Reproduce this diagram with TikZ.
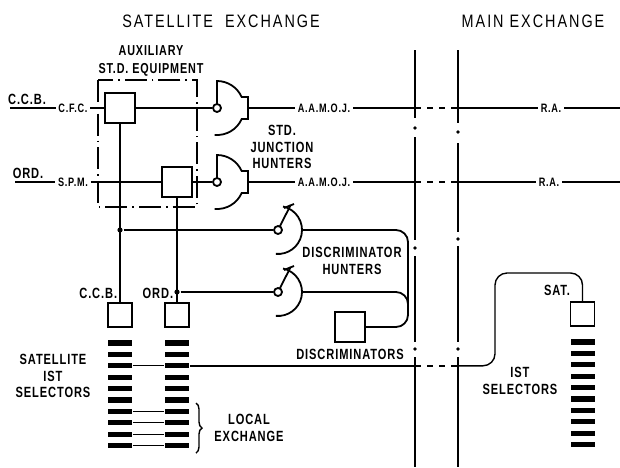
\documentclass[tikz,border=0pt]{standalone}
\usepackage{fontspec}
\setmainfont{Liberation Sans}[FakeStretch=0.75,LetterSpace=6]
\newfontfamily\titlefont{Liberation Sans}[FakeStretch=0.8,LetterSpace=11]
\usetikzlibrary{decorations.pathreplacing}

\begin{document}
\begin{tikzpicture}[x=0.5pt,y=-0.5pt,line width=0.9pt,
  title/.style={font=\titlefont\fontsize{9}{10}\selectfont,inner sep=0pt},
  lbl/.style={font=\bfseries\fontsize{7.4}{8.3}\selectfont,align=center,inner sep=0pt},
  tag/.style={font=\bfseries\fontsize{6.1}{6.5}\selectfont,inner sep=1pt},
  box/.style={draw,minimum size=15pt,inner sep=0pt},
  selbox/.style={draw,minimum size=12pt,inner sep=0pt},
  bar/.style={fill,minimum width=12pt,minimum height=2.6pt,inner sep=0pt},
  contact/.style={draw,circle,minimum size=4pt,inner sep=0pt,fill=white},
  dot/.style={fill,circle,minimum size=2.6pt,inner sep=0pt},
  auxframe/.style={dash pattern=on 11pt off 2.5pt on 0.8pt off 2.5pt}]
\def\yTop{108}
\def\yMid{182}
\def\ySel{365.8}
\useasboundingbox (0,0) rectangle (620,467);

\node[title] (sattitle) at (221,21) {SATELLITE\ \ EXCHANGE};
\node[title] (maintitle) at (533,21) {MAIN EXCHANGE};

% incoming lines
\coordinate (ccbin) at (10,\yTop);
\coordinate (ordin) at (15,\yMid);
\node[lbl,anchor=south] (ccbtxt) at (27,106) {C.C.B.};
\node[lbl,anchor=south] (ordtxt) at (28,180) {ORD.};
\node[tag] (cfc) at (73,\yTop) {C.F.C.};
\node[tag] (spm) at (73,\yMid) {S.P.M.};
\node[box] (aux1) at (120,\yTop) {};
\node[box] (aux2) at (177,\yMid) {};
\draw (ccbin) -- (cfc.west);
\draw (ordin) -- (spm.west);
\draw (cfc.east) -- (aux1.west);
\draw (spm.east) -- (aux2.west);

% auxiliary equipment
\draw[auxframe] (98,80) rectangle (197,207);
\node[lbl,font=\bfseries\fontsize{7.2}{9}\selectfont] (auxtxt) at (151,61) {AUXILIARY\\ST.D. EQUIPMENT};

% junction hunters
\node[contact] (jh1) at (217,\yTop) {};
\node[contact] (jh2) at (217,\yMid) {};
\draw (aux1.east) -- (jh1.west);
\draw (aux2.east) -- (jh2.west);
\foreach \h in {jh1,jh2}
  \draw[shift={(\h)}] (0,-4) -- (0,-27) arc[start angle=90,end angle=24,radius=13.5pt]
    -- (31,-11) -- (31,11) -- (24.7,11) arc[start angle=-24,end angle=-95,radius=13.5pt];
\node[lbl] (jhtxt) at (282,147) {STD.\\JUNCTION\\HUNTERS};
\coordinate (jh1o) at (248,\yTop);
\coordinate (jh2o) at (248,\yMid);
\node[tag] (aamoj1) at (324,\yTop) {A.A.M.O.J.};
\node[tag] (aamoj2) at (324,\yMid) {A.A.M.O.J.};
\draw (jh1o) -- (aamoj1.west);
\draw (jh2o) -- (aamoj2.west);

% junctions to main exchange
\coordinate (ljA) at (415,\yTop);
\coordinate (rjA) at (458,\yTop);
\coordinate (ljB) at (415,\yMid);
\coordinate (rjB) at (458,\yMid);
\draw (aamoj1.east) -- (ljA);
\draw (aamoj2.east) -- (ljB);
\draw[dashed] (ljA) -- (rjA);
\draw[dashed] (ljB) -- (rjB);
\node[tag] (ra1) at (551,\yTop) {R.A.};
\node[tag] (ra2) at (549,\yMid) {R.A.};
\coordinate (raoutA) at (620,\yTop);
\coordinate (raoutB) at (620,\yMid);
\draw (rjA) -- (ra1.west);
\draw (rjB) -- (ra2.west);
\draw (ra1.east) -- (raoutA);
\draw (ra2.east) -- (raoutB);

% discriminator hunters
\node[dot] (dA) at (120,230) {};
\node[dot] (dB) at (177,292) {};
\node[contact] (dh1) at (278,230) {};
\node[contact] (dh2) at (278,292) {};
\draw (dA) -- (dh1.west);
\draw (dB) -- (dh2.west);
\foreach \h in {dh1,dh2}{
  \draw[shift={(\h)}] (5,-23.5) arc[start angle=78,end angle=-95,radius=12pt];
  \draw[shift={(\h)}] (1.8,-3.6) -- (12.7,-25);
  \draw[shift={(\h)}] (6,-22) -- (16,-26);
}
\node[lbl] (dhtxt) at (352,261) {DISCRIMINATOR\\HUNTERS};
\node[box] (disc) at (350,327) {};
\node[lbl] (disctxt) at (350,354) {DISCRIMINATORS};
\coordinate (dh1o) at (302,230);
\coordinate (dh2o) at (302,292);
\coordinate (discbus) at (408,312);
\draw[rounded corners=6pt] (dh1o) -- (408,230) |- (disc.east);
\draw[rounded corners=6pt] (dh2o) -- (408,292) -- (discbus);

% satellite selectors
\node[selbox] (ccbsel) at (120,315) {};
\node[selbox] (ordsel) at (177,315) {};
\draw (aux1.south) -- (ccbsel.north);
\draw (aux2.south) -- (ordsel.north);
\node[lbl,anchor=east] (ccbsub) at (118,293) {C.C.B.};
\node[lbl,anchor=east] (ordsub) at (174,293) {ORD.};
\foreach \i in {1,...,10}{
  \node[bar] (ls-\i) at (120,{331.6+11.4*\i}) {};
  \node[bar] (rs-\i) at (177,{331.6+11.4*\i}) {};
  \node[bar] (ms-\i) at (583,{330.6+11.4*\i}) {};
}
\foreach \i in {3,7,8,9,10}
  \draw[line width=0.6pt] (ls-\i.east) -- (rs-\i.west);
\node[lbl] (sattxt) at (53,376) {SATELLITE\\IST\\SELECTORS};
\draw[line width=0.7pt,decorate,decoration={brace,amplitude=3pt}] (196,403) -- (196,453);
\node[lbl] (localtxt) at (249,428) {LOCAL\\EXCHANGE};

% main exchange selectors
\node[selbox] (sat) at (582.5,314) {};
\node[lbl] (sattag) at (557,290) {SAT.};
\node[lbl] (mselt) at (520,381) {IST\\SELECTORS};
\coordinate (ljC) at (415,\ySel);
\coordinate (rjC) at (458,\ySel);
\draw[line width=0.7pt] (rs-3.east) -- (ljC);
\draw[line width=0.7pt,dashed] (ljC) -- (rjC);
\draw[line width=0.7pt,rounded corners=6pt] (rjC) -- (495,\ySel) -- (495,273) -| (sat.north);

% junction boundaries
\foreach \a/\b in {50/118,137/240,256/342,357/467} \draw (415,\a) -- (415,\b);
\foreach \d in {128,248,349} \fill (415,\d) circle[radius=0.9pt];
\foreach \a/\b in {50/123,143/232,246/342,357/467} \draw (458,\a) -- (458,\b);
\foreach \d in {132,239,349} \fill (458,\d) circle[radius=0.9pt];
\end{tikzpicture}
\end{document}
